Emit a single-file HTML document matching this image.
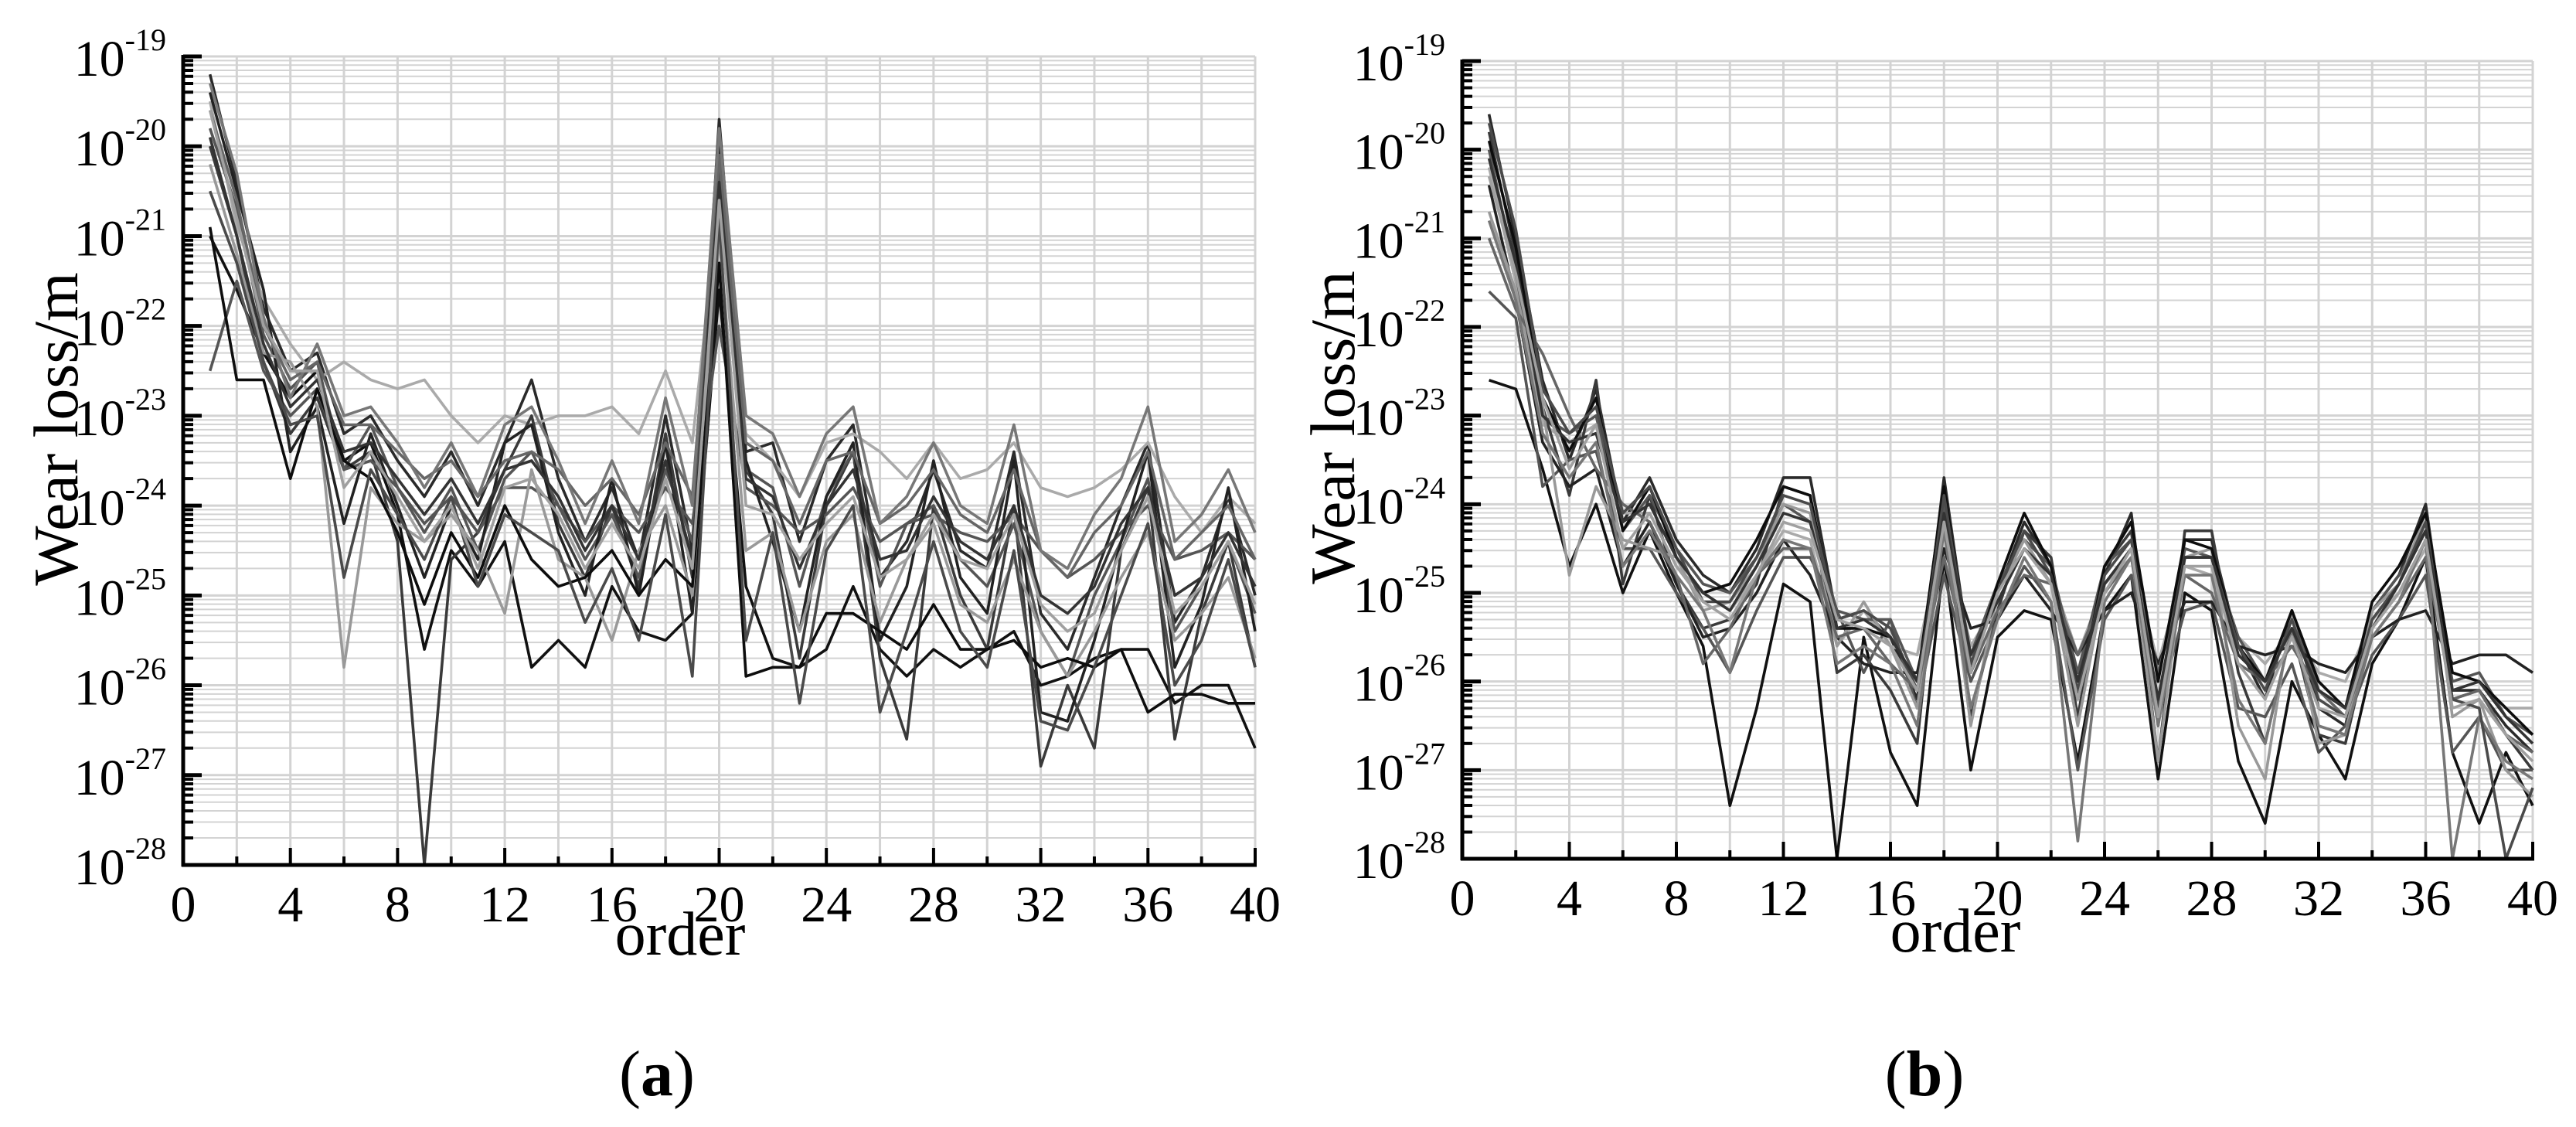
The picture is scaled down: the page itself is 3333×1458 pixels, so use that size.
<!DOCTYPE html>
<html><head><meta charset="utf-8"><style>
html,body{margin:0;padding:0;background:#fff;}
svg{display:block;font-family:"Liberation Serif","Times New Roman",serif;}
</style></head><body>
<svg id="chart" width="3333" height="1458" viewBox="0 0 3333 1458" xmlns="http://www.w3.org/2000/svg">
<rect width="3333" height="1458" fill="#fff"/>
</svg>
<script>
const xTicks=[0,4,8,12,16,20,24,28,32,36,40];
const yExps=[-19,-20,-21,-22,-23,-24,-25,-26,-27,-28];
const orders=[1,2,3,4,5,6,7,8,9,10,11,12,13,14,15,16,17,18,19,20,21,22,23,24,25,26,27,28,29,30,31,32,33,34,35,36,37,38,39,40];
const a1=[-19.2,-20.4,-21.8,-22.5,-22.3,-23.2,-23.0,-23.5,-23.9,-23.4,-24.0,-23.3,-22.6,-23.7,-24.4,-23.8,-24.6,-23.0,-24.5,-19.7,-23.4,-23.3,-24.4,-23.5,-23.1,-24.8,-24.4,-23.6,-24.5,-24.7,-23.4,-25.2,-25.6,-24.8,-24.0,-23.3,-25.3,-24.8,-23.9,-25.0];
const a2=[-19.5,-20.9,-21.7,-22.2,-22.6,-22.4,-22.6,-22.7,-22.6,-23.0,-23.3,-23.0,-23.1,-23.0,-23.0,-22.9,-23.2,-22.5,-23.3,-20.6,-23.2,-23.5,-23.9,-23.3,-23.2,-23.4,-23.7,-23.3,-23.7,-23.6,-23.3,-23.8,-23.9,-23.8,-23.6,-23.3,-23.9,-24.3,-23.9,-24.2];
const a3=[-21.0,-21.6,-22.3,-22.8,-22.5,-23.5,-23.3,-24.1,-25.6,-24.5,-24.9,-24.4,-25.8,-25.5,-25.8,-24.9,-25.4,-25.5,-25.2,-21.6,-24.9,-25.7,-25.8,-25.6,-24.9,-25.6,-25.9,-25.6,-25.8,-25.6,-25.4,-26.0,-25.9,-25.7,-25.6,-25.6,-26.2,-26.0,-26.0,-26.7];
const a4=[-20.0,-21.0,-22.4,-23.2,-22.8,-23.6,-23.4,-24.4,-28.0,-24.6,-24.3,-23.6,-23.0,-24.2,-24.8,-24.0,-24.9,-23.2,-24.8,-20.0,-23.6,-24.1,-25.7,-24.0,-23.4,-25.7,-26.6,-24.0,-25.0,-25.6,-24.0,-26.9,-26.0,-26.7,-24.5,-23.8,-26.6,-25.2,-24.4,-25.8];
const a5=[-19.8,-20.7,-22.1,-22.7,-22.4,-23.6,-23.1,-23.8,-24.3,-23.8,-24.5,-23.7,-23.4,-24.0,-24.6,-24.1,-24.8,-23.6,-24.4,-20.3,-23.6,-23.8,-24.9,-23.9,-23.4,-24.9,-24.2,-24.0,-24.6,-24.9,-24.2,-25.4,-25.9,-25.0,-24.4,-23.7,-25.4,-24.9,-24.4,-25.2];
const a6=[-22.5,-21.5,-22.5,-23.0,-22.7,-23.6,-23.5,-23.8,-24.2,-23.9,-24.3,-23.8,-23.8,-24.0,-24.4,-24.0,-24.3,-23.8,-24.2,-22.0,-23.8,-24.0,-24.3,-24.1,-23.8,-24.4,-24.2,-24.1,-24.3,-24.4,-24.1,-24.5,-24.8,-24.6,-24.3,-24.0,-24.6,-24.5,-24.3,-24.6];
const a7=[-19.4,-20.5,-21.6,-23.4,-22.9,-24.2,-23.2,-24.0,-24.8,-24.0,-24.6,-23.3,-23.1,-24.3,-25.0,-23.7,-25.0,-23.3,-25.2,-19.9,-23.5,-24.4,-25.4,-23.9,-23.3,-25.5,-24.9,-23.5,-24.8,-25.2,-23.5,-26.3,-26.4,-25.5,-24.4,-23.4,-25.8,-25.1,-23.8,-25.4];
const a8=[-20.2,-21.2,-22.3,-22.4,-22.9,-25.8,-23.8,-24.2,-24.4,-24.1,-24.5,-25.2,-23.6,-24.6,-24.8,-25.5,-24.5,-24.0,-25.0,-21.0,-24.5,-24.3,-25.4,-24.4,-24.1,-25.3,-24.6,-24.2,-25.1,-25.3,-24.6,-25.4,-25.9,-25.4,-24.8,-24.3,-25.5,-25.2,-24.8,-25.7];
const a9=[-19.6,-20.6,-22.0,-22.6,-22.4,-23.1,-23.1,-23.4,-23.7,-23.5,-23.9,-23.5,-23.4,-23.6,-24.0,-23.7,-24.1,-23.3,-23.9,-20.1,-23.3,-23.5,-24.2,-23.5,-23.4,-24.2,-24.0,-23.6,-24.1,-24.3,-23.6,-24.5,-24.8,-24.3,-24.0,-23.4,-24.6,-24.3,-24.0,-24.6];
const a10=[-20.9,-22.6,-22.6,-23.7,-22.7,-23.5,-23.7,-24.3,-25.1,-24.3,-24.8,-24.0,-24.6,-24.9,-24.8,-24.5,-25.0,-24.6,-24.9,-21.3,-25.9,-25.8,-25.8,-25.2,-25.2,-25.4,-25.6,-25.1,-25.6,-25.6,-25.5,-25.8,-25.7,-25.8,-25.6,-26.3,-26.1,-26.1,-26.2,-26.2];
const a11=[-19.3,-20.3,-21.9,-22.8,-22.2,-23.0,-22.9,-23.3,-23.8,-23.3,-23.9,-23.1,-22.9,-23.5,-24.2,-23.5,-24.2,-22.8,-24.0,-19.8,-23.0,-23.2,-23.9,-23.2,-22.9,-24.2,-23.9,-23.3,-24.0,-24.2,-23.1,-24.5,-24.7,-24.1,-23.7,-22.9,-24.4,-24.1,-23.6,-24.3];
const a12=[-20.5,-21.3,-22.4,-23.1,-23.0,-24.8,-23.6,-24.1,-24.6,-23.9,-24.9,-24.1,-24.3,-24.5,-25.3,-24.7,-25.5,-24.1,-25.9,-20.8,-25.5,-24.3,-26.2,-24.5,-24.0,-26.3,-25.4,-24.4,-25.4,-25.8,-24.5,-26.4,-26.5,-25.8,-25.0,-24.2,-26.0,-25.5,-24.6,-25.8];
const a13=[-19.9,-21.0,-22.2,-22.9,-22.6,-23.4,-23.3,-23.7,-24.1,-23.7,-24.2,-23.6,-23.5,-23.9,-24.5,-24.0,-24.6,-23.5,-24.6,-20.4,-23.7,-23.9,-24.7,-24.0,-23.6,-24.6,-24.5,-23.9,-24.4,-24.6,-24.0,-25.0,-25.2,-24.9,-24.2,-23.8,-25.0,-24.8,-24.3,-24.9];
const a14=[-19.6,-20.8,-22.0,-22.5,-22.5,-23.8,-23.4,-23.9,-24.4,-24.0,-24.7,-23.8,-23.7,-24.1,-24.7,-24.2,-24.7,-23.7,-24.7,-20.6,-24.0,-24.1,-24.6,-24.2,-23.9,-24.8,-24.6,-24.1,-24.6,-24.7,-24.1,-25.1,-25.4,-25.2,-24.5,-23.9,-25.2,-24.9,-24.4,-25.1];
const b1=[-19.6,-21.0,-22.6,-23.5,-22.7,-24.2,-23.7,-24.4,-24.8,-25.0,-24.5,-23.7,-23.7,-25.3,-25.2,-25.5,-26.2,-23.7,-25.8,-25.0,-24.2,-24.7,-26.0,-24.8,-24.1,-26.5,-24.4,-24.4,-25.6,-26.2,-25.2,-26.3,-26.5,-25.2,-24.8,-24.0,-26.1,-26.1,-26.5,-26.8];
const b2=[-20.2,-21.5,-23.1,-23.3,-23.1,-24.1,-24.1,-24.7,-25.0,-25.2,-24.8,-24.3,-24.4,-25.6,-25.2,-25.6,-25.7,-24.3,-25.6,-25.1,-24.5,-24.8,-25.7,-24.9,-24.6,-25.8,-24.7,-24.8,-25.5,-25.8,-25.4,-25.9,-26.0,-25.3,-25.0,-24.5,-25.9,-26.0,-26.3,-26.3];
const b3=[-22.6,-22.7,-23.6,-24.7,-24.0,-25.0,-24.3,-25.0,-25.6,-27.4,-26.3,-24.9,-25.1,-28.0,-25.5,-26.8,-27.4,-24.6,-27.0,-25.5,-25.2,-25.3,-26.9,-25.2,-24.8,-27.1,-25.0,-25.2,-26.9,-27.6,-26.0,-26.6,-27.1,-25.8,-25.3,-24.6,-26.8,-27.6,-26.8,-27.4];
const b4=[-19.8,-21.2,-22.9,-23.9,-22.6,-24.9,-23.9,-24.9,-25.4,-25.3,-24.9,-23.8,-23.9,-25.9,-25.7,-26.1,-26.7,-23.8,-26.4,-25.2,-24.3,-24.6,-26.4,-24.7,-24.3,-26.9,-24.3,-24.3,-25.9,-26.7,-25.4,-26.6,-26.7,-25.4,-24.9,-24.2,-26.2,-26.1,-26.6,-27.0];
const b5=[-21.6,-21.9,-23.8,-23.5,-23.4,-24.5,-24.5,-25.0,-25.4,-25.9,-25.2,-24.6,-24.6,-25.2,-25.9,-25.3,-26.3,-24.8,-26.0,-25.3,-24.7,-25.1,-27.0,-25.3,-24.8,-26.3,-25.2,-25.1,-26.3,-26.4,-25.8,-26.8,-26.5,-25.7,-25.3,-24.8,-26.8,-26.4,-27.0,-27.0];
const b6=[-20.0,-21.4,-23.0,-23.2,-23.0,-24.3,-23.9,-24.5,-24.9,-25.0,-24.6,-24.0,-24.2,-25.2,-25.3,-25.3,-26.0,-24.0,-25.7,-24.9,-24.4,-24.7,-25.9,-24.7,-24.4,-26.3,-24.5,-24.6,-25.5,-26.0,-25.2,-26.1,-26.3,-25.2,-24.8,-24.3,-26.0,-25.9,-26.4,-26.6];
const b7=[-20.4,-21.7,-23.3,-23.8,-23.6,-24.7,-24.2,-24.9,-25.5,-25.4,-25.0,-24.4,-24.8,-25.5,-25.8,-25.9,-25.9,-24.5,-25.4,-25.3,-24.8,-25.2,-25.7,-25.2,-25.0,-25.8,-25.1,-25.1,-25.6,-25.7,-25.6,-25.8,-25.9,-25.5,-25.3,-25.2,-25.8,-25.7,-25.7,-25.9];
const b8=[-20.7,-21.6,-22.9,-24.8,-23.8,-24.4,-24.5,-24.6,-25.2,-25.1,-24.7,-24.0,-24.1,-25.6,-25.1,-25.6,-26.3,-24.1,-26.5,-25.0,-24.4,-24.9,-26.5,-24.9,-24.5,-26.9,-24.6,-24.5,-26.5,-27.1,-25.2,-26.7,-26.6,-25.2,-24.9,-24.1,-26.4,-26.2,-27.0,-27.3];
const b9=[-21.0,-21.8,-22.3,-23.0,-23.6,-24.0,-24.2,-24.8,-25.8,-25.4,-24.8,-24.5,-24.5,-25.5,-25.4,-25.8,-26.1,-24.6,-25.9,-25.2,-24.8,-24.9,-25.7,-25.0,-24.6,-25.9,-24.8,-25.0,-25.8,-26.0,-25.6,-26.1,-26.4,-25.5,-25.1,-24.6,-26.2,-26.1,-26.6,-26.8];
const b10=[-19.9,-21.1,-22.8,-23.4,-22.8,-24.3,-23.8,-24.6,-25.0,-24.9,-24.4,-23.8,-23.9,-25.4,-25.4,-25.5,-26.0,-23.8,-25.9,-24.9,-24.1,-24.7,-26.2,-24.7,-24.2,-26.0,-24.4,-24.5,-25.6,-26.0,-25.2,-26.0,-26.3,-25.1,-24.7,-24.1,-25.9,-26.0,-26.3,-26.6];
const b11=[-20.8,-21.7,-23.2,-23.7,-23.3,-24.7,-24.3,-24.8,-25.2,-25.9,-24.8,-24.4,-24.5,-25.8,-25.6,-25.8,-26.5,-24.3,-26.3,-25.3,-24.6,-25.1,-27.8,-25.1,-24.6,-26.5,-24.8,-24.8,-26.2,-26.7,-25.4,-26.5,-26.6,-25.5,-25.1,-24.4,-28.0,-26.4,-26.9,-27.1];
const b12=[-19.7,-20.9,-22.7,-23.2,-22.9,-24.1,-23.8,-24.5,-25.1,-25.1,-24.6,-23.9,-24.0,-25.3,-25.2,-25.4,-26.1,-23.9,-25.8,-25.0,-24.3,-24.8,-26.1,-24.8,-24.4,-26.3,-24.6,-24.6,-25.6,-26.1,-25.3,-26.2,-26.4,-25.3,-24.9,-24.2,-26.2,-26.3,-28.0,-27.2];
const b13=[-20.1,-21.3,-23.0,-23.3,-23.2,-24.2,-24.0,-24.6,-25.0,-25.2,-24.7,-24.1,-24.2,-25.4,-25.3,-25.5,-26.0,-24.1,-25.7,-25.1,-24.5,-24.8,-26.0,-24.9,-24.5,-26.2,-24.6,-24.6,-25.7,-26.0,-25.4,-26.1,-26.3,-25.4,-24.9,-24.3,-26.1,-26.0,-26.4,-26.7];
const b14=[-20.3,-21.4,-22.8,-23.6,-23.1,-24.5,-24.1,-24.7,-25.1,-25.3,-24.8,-24.2,-24.3,-25.3,-25.4,-25.6,-26.1,-24.2,-25.9,-25.0,-24.5,-24.9,-26.2,-25.0,-24.5,-26.4,-24.7,-24.7,-25.8,-26.2,-25.5,-26.3,-26.4,-25.4,-25.0,-24.4,-26.3,-26.2,-26.6,-26.9];
const seriesA=[a1,a2,a3,a4,a5,a6,a7,a8,a9,a10,a11,a12,a13,a14];
const seriesB=[b1,b2,b3,b4,b5,b6,b7,b8,b9,b10,b11,b12,b13,b14];
const shades=['#2a2a2a','#aaaaaa','#111111','#3a3a3a','#555555','#555555','#222222','#999999','#666666','#0d0d0d','#777777','#4a4a4a','#333333','#a0a0a0'];

const NS='http://www.w3.org/2000/svg';
const svg=document.getElementById('chart');
function mk(tag,attrs,parent){const e=document.createElementNS(NS,tag);for(const k in attrs)e.setAttribute(k,attrs[k]);(parent||svg).appendChild(e);return e;}

function drawPanel(p){
  const g=mk('g',{});
  
  
  const X=v=>p.L+(v-0)/40*(p.R-p.L);
  const Y=e=>p.T+(-19-e)/9*(p.B-p.T);
  const grid=mk('g',{stroke:'#d3d3d3'},g);
  
  
  for(let e=-28;e<-19;e++){
    for(let m=2;m<10;m++){const y=Y(e+Math.log10(m));mk('line',{x1:p.L,x2:p.R,y1:y,y2:y,'stroke-width':2},grid);}
  }
  for(const e of yExps){const y=Y(e);mk('line',{x1:p.L,x2:p.R,y1:y,y2:y,'stroke-width':3},grid);}
  for(let v=2;v<=40;v+=2){const x=X(v);mk('line',{x1:x,x2:x,y1:p.T,y2:p.B,'stroke-width':3},grid);}
  const clipId='clip-'+p.id;
  const cp=mk('clipPath',{id:clipId},g);
  mk('rect',{x:p.L,y:p.T-4,width:p.R-p.L+2,height:p.B-p.T+8},cp);
  const sg=mk('g',{'clip-path':'url(#'+clipId+')',fill:'none','stroke-width':3.6,'stroke-linejoin':'round'},g);
  p.series.forEach((s,i)=>{
    const d=s.map((v,j)=>(j?'L':'M')+X(orders[j]).toFixed(1)+' '+Y(v).toFixed(1)).join(' ');
    const path=mk('path',{d:d,stroke:shades[i%shades.length]},sg);
    
    
  });
  const ax=mk('g',{stroke:'#000','stroke-width':5},g);
  
  
  mk('line',{x1:p.L,x2:p.L,y1:p.T-2,y2:p.B+2},ax);
  mk('line',{x1:p.L-2,x2:p.R+2,y1:p.B,y2:p.B},ax);
  for(let e=-28;e<-19;e++){
    for(let m=2;m<10;m++){const y=Y(e+Math.log10(m));mk('line',{x1:p.L,x2:p.L+13,y1:y,y2:y,'stroke-width':4},ax);}
  }
  for(const e of yExps){const y=Y(e);mk('line',{x1:p.L,x2:p.L+24,y1:y,y2:y},ax);}
  for(let v=2;v<=40;v+=2){const x=X(v);mk('line',{x1:x,x2:x,y1:p.B,y2:p.B-(v%4===0?22:11),'stroke-width':4},ax);}
  for(const e of yExps){
    const y=Y(e);
    const t=mk('text',{x:p.L-22,y:y+25,'text-anchor':'end',fill:'#000'},g);
    
    
    const t1=mk('tspan',{'font-size':66},t);t1.textContent='10';
    const t2=mk('tspan',{'font-size':40,dy:-33},t);t2.textContent=String(e);
  }
  for(const v of xTicks){
    const t=mk('text',{x:X(v),y:p.B+73,'text-anchor':'middle','font-size':66,fill:'#000'},g);
    
    
    t.textContent=String(v);
  }
  const xt=mk('text',{x:p.ox,y:p.oy,'text-anchor':'middle','font-size':80,fill:'#000'},g);
  
  
  xt.textContent='order';
  const yt=mk('text',{x:0,y:0,transform:'translate('+p.yx+','+p.yy+') rotate(-90)','text-anchor':'middle','font-size':82,fill:'#000'},g);
  
  
  yt.textContent='Wear loss/m';
  const cap=mk('text',{x:p.cx,y:1417,'text-anchor':'middle','font-size':84,fill:'#000'},g);
  
  
  const c1=mk('tspan',{},cap);c1.textContent='(';
  const c2=mk('tspan',{'font-weight':'bold'},cap);c2.textContent=p.id;
  const c3=mk('tspan',{},cap);c3.textContent=')';
}
drawPanel({id:'a',L:237,R:1624,T:73,B:1119,series:seriesA,ox:880,oy:1235,yx:100,yy:555,cx:850});
drawPanel({id:'b',L:1892,R:3277,T:79,B:1111,series:seriesB,ox:2530,oy:1231,yx:1752,yy:553,cx:2490});
</script>
</body></html>
